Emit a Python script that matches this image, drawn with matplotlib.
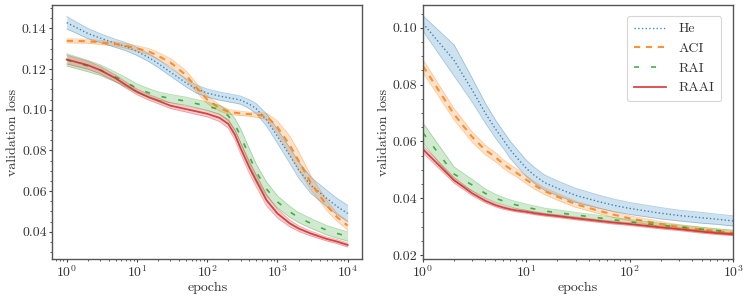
import numpy as np
import matplotlib
matplotlib.use("Agg")
import matplotlib.pyplot as plt
from matplotlib.ticker import MultipleLocator

plt.rcParams['font.family'] = ['cmr10', 'DejaVu Serif']
plt.rcParams['mathtext.fontset'] = 'cm'
plt.rcParams['axes.formatter.use_mathtext'] = True
plt.rcParams['axes.unicode_minus'] = False

labels = ["He", "ACI", "RAI", "RAAI"]
colors = ["#1f77b4", "#ff7f0e", "#2ca02c", "#d62728"]

# ---- left panel data ----
epochs_left = [1, 2, 3, 5, 7, 10, 15, 20, 30, 50, 70, 100, 150, 200, 250, 300, 400,
               500, 700, 1000, 1500, 2000, 3000, 5000, 7000, 10000]
he_left = [0.1428, 0.1375, 0.1352, 0.1326, 0.1310, 0.1287, 0.1255, 0.1228, 0.1185,
           0.1132, 0.1102, 0.1082, 0.1067, 0.1059, 0.1053, 0.1047, 0.1027, 0.1005, 0.0950,
           0.0870, 0.0775, 0.0705, 0.0628, 0.0565, 0.0525, 0.0490]
aci_left = [0.1339, 0.1337, 0.1331, 0.1323, 0.1314, 0.1302, 0.1285, 0.1265, 0.1232,
            0.1170, 0.1110, 0.1050, 0.1008, 0.0990, 0.0985, 0.0982, 0.0978, 0.0975, 0.0968,
            0.0915, 0.0826, 0.0750, 0.0640, 0.0531, 0.0473, 0.0430]
rai_left = [0.1245, 0.1215, 0.1195, 0.1160, 0.1135, 0.1105, 0.1082, 0.1068, 0.1055,
            0.1042, 0.1030, 0.1018, 0.1000, 0.0970, 0.0925, 0.0870, 0.0770, 0.0695, 0.0610,
            0.0547, 0.0498, 0.0470, 0.0441, 0.0408, 0.0392, 0.0377]
raai_left = [0.1247, 0.1219, 0.1195, 0.1154, 0.1121, 0.1088, 0.1060, 0.1044, 0.1020,
             0.1003, 0.0992, 0.0980, 0.0960, 0.0930, 0.0875, 0.0810, 0.0715, 0.0650, 0.0555,
             0.0490, 0.0441, 0.0416, 0.0391, 0.0365, 0.0352, 0.0335]
he_left_std = [0.003, 0.0025, 0.0022, 0.002, 0.002, 0.002, 0.002, 0.002, 0.002, 0.002,
               0.002, 0.002, 0.002, 0.002, 0.002, 0.002, 0.0022, 0.0025, 0.003, 0.0035,
               0.0038, 0.004, 0.004, 0.004, 0.004, 0.004]
aci_left_std = [0.001, 0.001, 0.001, 0.001, 0.0012, 0.0013, 0.0015, 0.0017, 0.002, 0.0022,
                0.0022, 0.002, 0.0015, 0.0012, 0.0011, 0.001, 0.001, 0.0012, 0.0015, 0.003,
                0.0045, 0.0045, 0.0035, 0.0025, 0.002, 0.0022]
rai_left_std = [0.003, 0.0028, 0.0026, 0.0024, 0.0023, 0.0022, 0.0021, 0.002, 0.002, 0.002,
                0.002, 0.002, 0.0022, 0.0026, 0.003, 0.0035, 0.0038, 0.0038, 0.0035, 0.003,
                0.0027, 0.0025, 0.0024, 0.0023, 0.0023, 0.0023]
raai_left_std = [0.0022, 0.002, 0.0018, 0.0016, 0.0015, 0.0014, 0.0014, 0.0014, 0.0014,
                 0.0014, 0.0015, 0.0015, 0.0018, 0.0021, 0.0025, 0.0028, 0.003, 0.003,
                 0.0028, 0.0022, 0.0017, 0.0014, 0.0012, 0.001, 0.001, 0.001]

# ---- right panel data ----
epochs_right = [1, 2, 3, 4, 5, 6, 7, 8, 10, 12, 15, 20, 30, 50, 70, 100, 200, 300,
                500, 700, 1000]
he_right = [0.1015, 0.0885, 0.0780, 0.0700, 0.0645, 0.0605, 0.0570, 0.0545, 0.0505,
            0.0480, 0.0455, 0.0435, 0.0410, 0.0388, 0.0375, 0.0364, 0.0347, 0.0339,
            0.0331, 0.0326, 0.0320]
aci_right = [0.0865, 0.0695, 0.0615, 0.0570, 0.0545, 0.0520, 0.0503, 0.0490, 0.0465,
             0.0445, 0.0425, 0.0405, 0.0379, 0.0356, 0.0342, 0.0329, 0.0309, 0.0299,
             0.0290, 0.0284, 0.0278]
rai_right = [0.0630, 0.0485, 0.0446, 0.0417, 0.0400, 0.0390, 0.0382, 0.0376, 0.0368,
             0.0362, 0.0355, 0.0349, 0.0341, 0.0331, 0.0324, 0.0317, 0.0305, 0.0299,
             0.0291, 0.0286, 0.0282]
raai_right = [0.0572, 0.0463, 0.0417, 0.0391, 0.0376, 0.0367, 0.0361, 0.0357, 0.0352,
              0.0347, 0.0342, 0.0337, 0.0329, 0.0320, 0.0314, 0.0309, 0.0297, 0.0291,
              0.0282, 0.0277, 0.0273]
he_right_std = [0.0027, 0.0055, 0.0042, 0.0035, 0.0032, 0.003, 0.003, 0.003, 0.0029,
                0.0028, 0.0027, 0.0026, 0.0025, 0.0023, 0.0022, 0.0021, 0.002, 0.0019,
                0.0019, 0.0018, 0.0018]
aci_right_std = [0.0023, 0.002, 0.0018, 0.0017, 0.0016, 0.0015, 0.0015, 0.0014, 0.0014,
                 0.0013, 0.0012, 0.0012, 0.0011, 0.001, 0.001, 0.0009, 0.0009, 0.0008,
                 0.0008, 0.0008, 0.0008]
rai_right_std = [0.0035, 0.0025, 0.002, 0.0016, 0.0014, 0.0013, 0.0012, 0.0012, 0.0011,
                 0.0011, 0.001, 0.001, 0.0009, 0.0009, 0.0008, 0.0008, 0.0007, 0.0007,
                 0.0006, 0.0006, 0.0006]
raai_right_std = [0.0013, 0.001, 0.0008, 0.0007, 0.0006, 0.0006, 0.0005, 0.0005, 0.0005,
                  0.0005, 0.0005, 0.0005, 0.0005, 0.0005, 0.0005, 0.0005, 0.0005, 0.0005,
                  0.0005, 0.0005, 0.0005]

styles = [
    dict(linestyle=':', linewidth=1.0),
    dict(linestyle=(0, (3, 2.7)), linewidth=1.5),
    dict(linestyle=(0, (3, 7.2)), linewidth=1.2),
    dict(linestyle='-', linewidth=1.3),
]

fig = plt.figure(figsize=(7.48, 3.0), dpi=100)
axL = fig.add_axes([0.0699, 0.1367, 0.4144, 0.8467])
axR = fig.add_axes([0.5655, 0.1367, 0.4144, 0.8467])

left_series = [(he_left, he_left_std), (aci_left, aci_left_std),
               (rai_left, rai_left_std), (raai_left, raai_left_std)]
right_series = [(he_right, he_right_std), (aci_right, aci_right_std),
                (rai_right, rai_right_std), (raai_right, raai_right_std)]

for ax, ep, series in [(axL, epochs_left, left_series), (axR, epochs_right, right_series)]:
    x = np.array(ep, dtype=float)
    for (m, s), c, st, lab in zip(series, colors, styles, labels):
        m = np.array(m); s = np.array(s)
        ax.fill_between(x, m - s, m + s, color=c, alpha=0.22, linewidth=0)
        ax.plot(x, m - s, color=c, alpha=0.35, linewidth=0.6)
        ax.plot(x, m + s, color=c, alpha=0.35, linewidth=0.6)
        ax.plot(x, m, color=c, alpha=0.85, label=lab, **st)
    ax.set_xscale('log')
    ax.set_xlabel('epochs', fontsize=10, color='#333333', labelpad=1)
    ax.set_ylabel('validation loss', fontsize=10, color='#333333', labelpad=2)
    ax.yaxis.set_major_locator(MultipleLocator(0.02))
    ax.yaxis.set_minor_locator(MultipleLocator(0.005))
    ax.yaxis.set_major_formatter(matplotlib.ticker.FormatStrFormatter('%.2f'))
    ax.tick_params(axis='both', which='major', labelsize=10, labelcolor='#333333',
                   color='#444444', length=2.5, width=0.8, pad=1.5)
    ax.tick_params(axis='both', which='minor', color='#444444', length=1.5, width=0.6)
    for sp in ax.spines.values():
        sp.set_color('#555555')
        sp.set_linewidth(1.0)

axL.set_ylim(0.0266, 0.1515)
axR.set_ylim(0.0186, 0.108)
axR.set_xlim(1, 1000)
axL.set_xlim(10 ** -0.205, 10 ** 4.208)

leg = axR.legend(loc='upper right', fontsize=10, frameon=True, fancybox=True,
                 handlelength=2.3, borderpad=0.5, labelspacing=0.5, handletextpad=0.9,
                 bbox_to_anchor=(0.985, 0.985))
leg.get_frame().set_edgecolor('#cccccc')
leg.get_frame().set_linewidth(0.8)
for t in leg.get_texts():
    t.set_color('#333333')

fig.savefig('out.png', dpi=100)
